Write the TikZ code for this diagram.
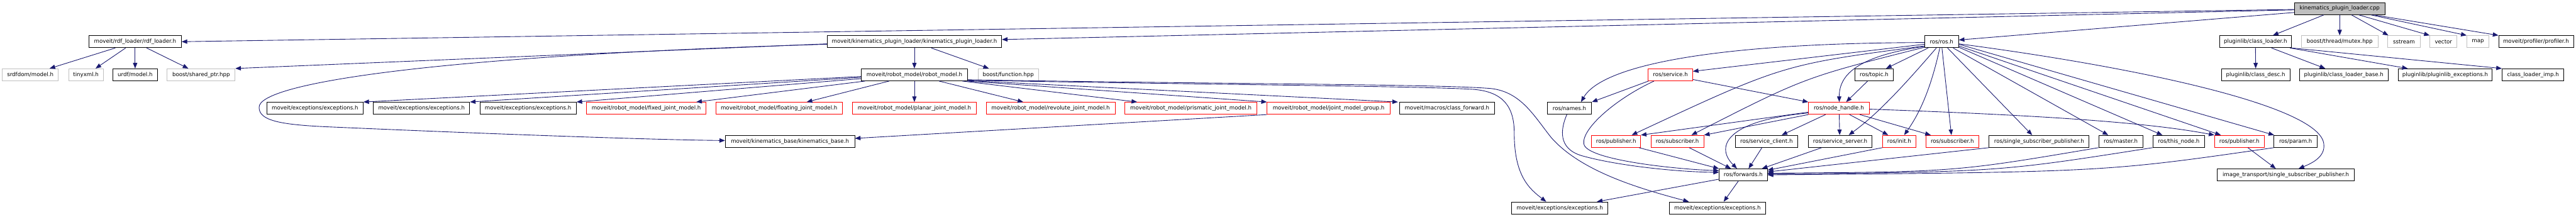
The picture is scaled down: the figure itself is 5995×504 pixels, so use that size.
\documentclass[tikz,border=0pt]{standalone}
\usepackage{fontspec}
\newfontfamily\dvsans{DejaVu Sans}
\usetikzlibrary{arrows.meta}
\definecolor{edgecol}{HTML}{191970}
\definecolor{graybd}{HTML}{BFBFBF}
\definecolor{cppfill}{HTML}{BFBFBF}
\definecolor{redbd}{HTML}{FF0000}
\begin{document}
\begin{tikzpicture}[x=1pt,y=-1pt,
  box/.style={draw=black, line width=1.3pt, inner sep=0pt, minimum height=28pt,
    font=\dvsans\fontsize{12.65}{15}\selectfont, text=black},
  gbox/.style={box, draw=graybd},
  rbox/.style={box, draw=redbd},
  cbox/.style={box, fill=cppfill},
  edge/.style={draw=edgecol, line width=1.3pt, -{Triangle[length=13pt,width=10pt]}}
]
\useasboundingbox[fill=white] (0,0) rectangle (5995,504);

% row 0
\node[cbox, minimum width=210pt] (cpp) at (5445,20) {kinematics\_plugin\_loader.cpp};
% row 1
\node[box, minimum width=215pt] (rdf) at (314.5,97) {moveit/rdf\_loader/rdf\_loader.h};
\node[box, minimum width=406pt] (kplh) at (2128,97) {moveit/kinematics\_plugin\_loader/kinematics\_plugin\_loader.h};
\node[box, minimum width=79pt] (rosh) at (4518.5,97) {ros/ros.h};
\node[box, minimum width=168pt] (clsld) at (5249,97) {pluginlib/class\_loader.h};
\node[gbox, minimum width=178pt] (mutex) at (5445,97) {boost/thread/mutex.hpp};
\node[gbox, minimum width=75pt] (sstream) at (5594.5,97) {sstream};
\node[gbox, minimum width=63pt] (vector) at (5686.5,97) {vector};
\node[gbox, minimum width=51pt] (map) at (5766.5,97) {map};
\node[box, minimum width=174pt] (profiler) at (5902,97) {moveit/profiler/profiler.h};
% row 2
\node[gbox, minimum width=131pt] (srdf) at (70.5,174) {srdfdom/model.h};
\node[gbox, minimum width=80pt] (tinyxml) at (200,174) {tinyxml.h};
\node[box, minimum width=103pt] (urdf) at (314.5,174) {urdf/model.h};
\node[gbox, minimum width=158pt] (sharedptr) at (468,174) {boost/shared\_ptr.hpp};
\node[box, minimum width=248pt] (robotmodel) at (2128,174) {moveit/robot\_model/robot\_model.h};
\node[gbox, minimum width=141pt] (function) at (2346.5,174) {boost/function.hpp};
\node[rbox, minimum width=103pt] (service) at (3887.5,174) {ros/service.h};
\node[box, minimum width=89pt] (topic) at (4361.5,174) {ros/topic.h};
\node[box, minimum width=159pt] (clsdesc) at (5249.5,174) {pluginlib/class\_desc.h};
\node[box, minimum width=207pt] (clsbase) at (5454.5,174) {pluginlib/class\_loader\_base.h};
\node[box, minimum width=219pt] (plexc) at (5690.5,174) {pluginlib/pluginlib\_exceptions.h};
\node[box, minimum width=144pt] (clsimp) at (5895,174) {class\_loader\_imp.h};
% row 3
\node[box, minimum width=224pt] (exa) at (733,252) {moveit/exceptions/exceptions.h};
\node[box, minimum width=224pt] (exb) at (981,252) {moveit/exceptions/exceptions.h};
\node[box, minimum width=224pt] (exc) at (1229,252) {moveit/exceptions/exceptions.h};
\node[rbox, minimum width=278pt] (fixed) at (1504,252) {moveit/robot\_model/fixed\_joint\_model.h};
\node[rbox, minimum width=294pt] (floating) at (1813,252) {moveit/robot\_model/floating\_joint\_model.h};
\node[rbox, minimum width=288pt] (planar) at (2128,252) {moveit/robot\_model/planar\_joint\_model.h};
\node[rbox, minimum width=300pt] (revolute) at (2445,252) {moveit/robot\_model/revolute\_joint\_model.h};
\node[rbox, minimum width=307pt] (prismatic) at (2771.5,252) {moveit/robot\_model/prismatic\_joint\_model.h};
\node[rbox, minimum width=286pt] (jmg) at (3092,252) {moveit/robot\_model/joint\_model\_group.h};
\node[box, minimum width=221pt] (classfwd) at (3367.5,252) {moveit/macros/class\_forward.h};
\node[box, minimum width=103pt] (names) at (3652.5,252) {ros/names.h};
\node[rbox, minimum width=141pt] (nodehandle) at (4279.5,252) {ros/node\_handle.h};
% row 4
\node[box, minimum width=301pt] (kinbase) at (1838.5,329) {moveit/kinematics\_base/kinematics\_base.h};
\node[rbox, minimum width=114pt] (pub1) at (3761,329) {ros/publisher.h};
\node[rbox, minimum width=123pt] (sub1) at (3903.5,329) {ros/subscriber.h};
\node[box, minimum width=144pt] (srvclient) at (4111,329) {ros/service\_client.h};
\node[box, minimum width=149pt] (srvserver) at (4282.5,329) {ros/service\_server.h};
\node[rbox, minimum width=78pt] (init) at (4420,329) {ros/init.h};
\node[rbox, minimum width=123pt] (sub2) at (4543.5,329) {ros/subscriber.h};
\node[box, minimum width=233pt] (ssp) at (4745.5,329) {ros/single\_subscriber\_publisher.h};
\node[box, minimum width=103pt] (master) at (4935.5,329) {ros/master.h};
\node[box, minimum width=121pt] (thisnode) at (5070.5,329) {ros/this\_node.h};
\node[rbox, minimum width=115pt] (pub2) at (5211.5,329) {ros/publisher.h};
\node[box, minimum width=101pt] (param) at (5342.5,329) {ros/param.h};
% row 5
\node[box, minimum width=112pt] (forwards) at (4057,407) {ros/forwards.h};
\node[box, minimum width=319pt] (itssp) at (5319.5,407) {image\_transport/single\_subscriber\_publisher.h};
% row 6
\node[box, minimum width=224pt] (exd) at (3630,484) {moveit/exceptions/exceptions.h};
\node[box, minimum width=224pt] (exe) at (3997,484) {moveit/exceptions/exceptions.h};

% cpp edges
\draw[edge] ([yshift=-2]cpp.west) -- (rdf.east);
\draw[edge] ([yshift=-3]cpp.west) -- ([yshift=5]kplh.east);
\draw[edge] ([yshift=-9]cpp.west) -- ([yshift=4]rosh.east);
\draw[edge] ([xshift=69]cpp.south west) -- ([xshift=125]clsld.north west);
\draw[edge] (cpp.south) -- (mutex.north);
\draw[edge] ([xshift=133]cpp.south west) -- ([xshift=2]sstream.north west);
\draw[edge] ([xshift=150]cpp.south west) -- (vector.north west);
\draw[edge] ([xshift=178]cpp.south west) -- (map.north west);
\draw[edge] ([xshift=185]cpp.south west) -- (profiler.north west);
% class loader
\draw[edge] (clsld.south) -- (clsdesc.north);
\draw[edge] ([xshift=122]clsld.south west) -- ([xshift=61]clsbase.north west);
\draw[edge] ([xshift=165]clsld.south west) -- ([xshift=23]plexc.north west);
\draw[edge] (clsld.south east) -- (clsimp.north west);
% kinematics plugin loader header
\draw[edge] (kplh.south) -- (robotmodel.north);
\draw[edge] ([xshift=243]kplh.south west) -- ([xshift=26]function.north west);
\draw[edge] ([yshift=-5]kplh.west) -- (sharedptr.north east);
\draw[edge] ([yshift=-6]kplh.west) .. controls (1000,130) and (600,195) .. (603,250)
  .. controls (603,280) and (650,290) .. (760,295)
  .. controls (1100,310) and (1500,325) .. ([yshift=2]kinbase.west);
% rdf loader
\draw[edge] ([xshift=62]rdf.south west) -- ([xshift=111]srdf.north west);
\draw[edge] ([xshift=86]rdf.south west) -- ([xshift=63]tinyxml.north west);
\draw[edge] (rdf.south) -- (urdf.north);
\draw[edge] ([xshift=135]rdf.south west) -- ([xshift=50]sharedptr.north west);
% robot model
\draw[edge] ([yshift=-4]robotmodel.west) -- (exa.north east);
\draw[edge] ([yshift=-6]robotmodel.west) -- (exb.north east);
\draw[edge] ([yshift=-9]robotmodel.west) -- (exc.north east);
\draw[edge] ([xshift=10]robotmodel.south west) -- ([xshift=256]fixed.north west);
\draw[edge] ([xshift=66]robotmodel.south west) -- ([xshift=212]floating.north west);
\draw[edge] (robotmodel.south) -- (planar.north);
\draw[edge] ([xshift=182]robotmodel.south west) -- ([xshift=87]revolute.north west);
\draw[edge] ([xshift=236]robotmodel.south west) -- ([xshift=29]prismatic.north west);
\draw[edge] ([xshift=-2]robotmodel.south east) -- (jmg.north west);
\draw[edge] ([yshift=1]robotmodel.south east) -- ([xshift=-3]classfwd.north west);
\draw[edge] ([yshift=2]robotmodel.south east) .. controls (2800,197) and (3300,200) .. (3430,208)
  .. controls (3500,214) and (3524,250) .. (3524,310)
  .. controls (3524,410) and (3560,440) .. ([xshift=81]exd.north west);
\draw[edge] ([yshift=3]robotmodel.south east) .. controls (2900,196) and (3350,196) .. (3470,206)
  .. controls (3540,214) and (3570,270) .. (3610,320)
  .. controls (3680,400) and (3820,440) .. ([xshift=46]exe.north west);
% names / service
\draw[edge] ([xshift=46]names.south west) .. controls (3632,300) and (3625,345) .. (3680,362)
  .. controls (3760,385) and (3900,400) .. ([yshift=6]forwards.west);
\draw[edge] ([xshift=14]service.south west) .. controls (3760,230) and (3680,300) .. (3686,335)
  .. controls (3692,372) and (3900,394) .. ([yshift=10]forwards.west);
\draw[edge] ([xshift=1]service.south west) -- (names.north east);
\draw[edge] ([yshift=-11]service.east) -- (nodehandle.north west);
% ros.h
\draw[edge] ([yshift=-2]rosh.west) .. controls (4000,100) and (3730,150) .. ([xshift=79]names.north west);
\draw[edge] ([yshift=-6]rosh.west) -- ([yshift=8]service.east);
\draw[edge] ([yshift=-10]rosh.west) .. controls (4150,150) .. ([xshift=94]pub1.north west);
\draw[edge] ([yshift=-13]rosh.west) .. controls (4200,180) .. ([xshift=95]sub1.north west);
\draw[edge] ([yshift=-11]rosh.west) .. controls (4330,130) and (4280,170) .. ([xshift=72]nodehandle.north west);
\draw[edge] ([xshift=9]rosh.south west) -- ([xshift=73]topic.north west);
\draw[edge] ([xshift=28]rosh.south west) .. controls (4430,200) and (4370,265) .. ([xshift=95]srvserver.north west);
\draw[edge] ([xshift=36]rosh.south west) .. controls (4495,200) and (4470,260) .. ([xshift=51]init.north west);
\draw[edge] ([xshift=41]rosh.south west) -- ([xshift=60]sub2.north west);
\draw[edge] ([xshift=54]rosh.south west) -- ([xshift=101]ssp.north west);
\draw[edge] ([xshift=67]rosh.south west) -- ([xshift=23]master.north west);
\draw[edge] ([yshift=-13]rosh.east) -- ([xshift=23]thisnode.north west);
\draw[edge] ([yshift=-10]rosh.east) -- ([xshift=15]pub2.north west);
\draw[edge] ([yshift=-6]rosh.east) -- ([xshift=1]param.north west);
\draw[edge] ([yshift=-5]rosh.east) .. controls (5000,160) and (5400,250) .. (5408,335)
  .. controls (5412,365) and (5380,380) .. ([xshift=190]itssp.north west);
% topic / node handle
\draw[edge] ([xshift=30]topic.south west) -- ([xshift=88]nodehandle.north west);
\draw[edge] ([yshift=-9]nodehandle.west) -- (pub1.north east);
\draw[edge] (nodehandle.south west) -- (sub1.north east);
\draw[edge] ([yshift=-11]nodehandle.west) .. controls (4020,280) and (3990,340) .. ([xshift=42]forwards.north west);
\draw[edge] ([xshift=40]nodehandle.south west) -- ([xshift=108]srvclient.north west);
\draw[edge] ([xshift=72]nodehandle.south west) -- ([xshift=74]srvserver.north west);
\draw[edge] ([xshift=96]nodehandle.south west) -- ([xshift=14]init.north west);
\draw[edge] ([xshift=120]nodehandle.south west) -- ([xshift=12]sub2.north west);
\draw[edge] ([yshift=-2]nodehandle.east) .. controls (4750,268) and (5000,285) .. (pub2.north west);
% into forwards
\draw[edge] ([xshift=111]pub1.south west) -- (forwards.north west);
\draw[edge] ([xshift=90]sub1.south west) -- ([xshift=28]forwards.north west);
\draw[edge] ([xshift=62]srvclient.south west) -- ([xshift=69]forwards.north west);
\draw[edge] ([xshift=32]srvserver.south west) -- ([xshift=100]forwards.north west);
\draw[edge] (init.south west) -- ([yshift=11]forwards.east);
\draw[edge] (ssp.south west) -- ([yshift=7]forwards.east);
\draw[edge] (master.south west) .. controls (4550,400) .. ([yshift=4]forwards.east);
\draw[edge] (thisnode.south west) .. controls (4650,400) .. ([yshift=2]forwards.east);
\draw[edge] (param.south west) .. controls (4900,400) .. (forwards.east);
% others
\draw[edge] ([xshift=78]pub2.south west) -- ([xshift=137]itssp.north west);
\draw[edge] ([yshift=-10]forwards.west) -- ([xshift=199]exd.north west);
\draw[edge] ([xshift=45]forwards.south west) -- ([xshift=127]exe.north west);
\draw[edge] (jmg.south west) -- ([yshift=7]kinbase.east);
\end{tikzpicture}
\end{document}
